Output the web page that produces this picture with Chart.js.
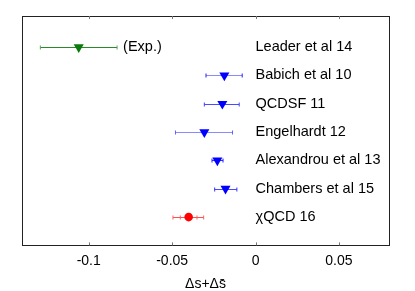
<!DOCTYPE html>
<html>
<head>
<meta charset="utf-8">
<script src="https://cdn.jsdelivr.net/npm/chart.js@4"></script>
<style>
  html, body { margin: 0; padding: 0; background: #fff; }
  #wrap { width: 415px; height: 291px; }
</style>
</head>
<body>
<div id="wrap"><canvas id="c"></canvas></div>
<script>
// data
var labels = ['Leader et al 14', 'Babich et al 10', 'QCDSF 11', 'Engelhardt 12',
              'Alexandrou et al 13', 'Chambers et al 15', '\u03c7QCD 16'];
var rows = [7, 6, 5, 4, 3, 2, 1];
var values = [-0.106, -0.0187, -0.0199, -0.0307, -0.0229, -0.018, -0.0401];
var errLow = [-0.129, -0.0297, -0.0307, -0.048, -0.0261, -0.0245, -0.0495];
var errHigh = [-0.083, -0.008, -0.0098, -0.0138, -0.0195, -0.0112, -0.0311];
var statLow = [null, null, null, null, null, null, -0.0451];
var statHigh = [null, null, null, null, null, null, -0.0351];
var xTicks = [-0.1, -0.05, 0, 0.05];
var xTickLabels = ['-0.1', '-0.05', '0', '0.05'];

var markerColors = ['#0a7a0a', '#0000ff', '#0000ff', '#0000ff', '#0000ff', '#0000ff', '#ff0000'];
var barColors = ['#2a8a2a', '#8a8aff', '#4a4aff', '#8a8aff', '#3030ff', '#4a4aff', '#ff5050'];
var capColors = ['#5aa55a', '#2020ff', '#4040ff', '#6060ff', '#2020ff', '#3030ff', '#ff6060'];

var FONT = '"Liberation Sans", Arial, Helvetica, sans-serif';

var points = values.map(function (v, i) { return { x: v, y: rows[i] }; });
var isLast = function (i) { return i === values.length - 1; };

var extras = {
  id: 'extras',
  beforeDatasetsDraw: function (chart) {
    var ctx = chart.ctx, xs = chart.scales.x, ys = chart.scales.y;
    ctx.save();
    for (var i = 0; i < values.length; i++) {
      var y = Math.round(ys.getPixelForValue(rows[i])) + 0.5;
      var x1 = xs.getPixelForValue(errLow[i]), x2 = xs.getPixelForValue(errHigh[i]);
      ctx.strokeStyle = barColors[i];
      ctx.lineWidth = 1;
      ctx.beginPath();
      ctx.moveTo(x1, y); ctx.lineTo(x2, y);
      ctx.stroke();
      ctx.strokeStyle = capColors[i];
      ctx.beginPath();
      ctx.moveTo(x1, y - 2); ctx.lineTo(x1, y + 2);
      ctx.moveTo(x2, y - 2); ctx.lineTo(x2, y + 2);
      if (statLow[i] !== null) {
        var s1 = xs.getPixelForValue(statLow[i]), s2 = xs.getPixelForValue(statHigh[i]);
        ctx.moveTo(s1, y - 2); ctx.lineTo(s1, y + 2);
        ctx.moveTo(s2, y - 2); ctx.lineTo(s2, y + 2);
      }
      ctx.stroke();
    }
    ctx.restore();
  },
  afterDraw: function (chart) {
    var ctx = chart.ctx, a = chart.chartArea, xs = chart.scales.x, ys = chart.scales.y;
    ctx.save();
    // frame
    ctx.strokeStyle = '#222';
    ctx.lineWidth = 1;
    ctx.strokeRect(Math.round(a.left) + 0.5, Math.round(a.top) + 0.5,
                   Math.round(a.right - a.left), Math.round(a.bottom - a.top));
    // inward ticks top and bottom
    ctx.strokeStyle = '#777';
    ctx.beginPath();
    xTicks.forEach(function (t) {
      var x = Math.round(xs.getPixelForValue(t)) + 0.5;
      ctx.moveTo(x, a.bottom); ctx.lineTo(x, a.bottom - 3);
      ctx.moveTo(x, a.top); ctx.lineTo(x, a.top + 3);
    });
    ctx.stroke();
    // row labels
    ctx.fillStyle = '#000';
    ctx.font = '14.5px ' + FONT;
    ctx.textBaseline = 'middle';
    ctx.textAlign = 'left';
    var lx = xs.getPixelForValue(0);
    labels.forEach(function (l, i) {
      ctx.fillText(l, lx, ys.getPixelForValue(rows[i]));
    });
    ctx.fillText('(Exp.)', xs.getPixelForValue(-0.0794), ys.getPixelForValue(rows[0]));
    ctx.restore();
  }
};

new Chart(document.getElementById('c'), {
  type: 'scatter',
  data: {
    datasets: [{
      data: points,
      pointStyle: values.map(function (v, i) { return isLast(i) ? 'circle' : 'triangle'; }),
      rotation: values.map(function (v, i) { return isLast(i) ? 0 : 180; }),
      pointRadius: values.map(function (v, i) { return isLast(i) ? 4.3 : 5.8; }),
      backgroundColor: markerColors,
      borderColor: markerColors,
      borderWidth: 0
    }]
  },
  options: {
    responsive: true,
    maintainAspectRatio: false,
    animation: false,
    layout: { padding: { left: 22, right: 26, top: 16, bottom: -2 } },
    plugins: { legend: { display: false }, tooltip: { enabled: false } },
    scales: {
      x: {
        type: 'linear',
        min: -0.14,
        max: 0.08,
        afterBuildTicks: function (s) { s.ticks = xTicks.map(function (v) { return { value: v }; }); },
        grid: { display: false, drawTicks: false },
        border: { display: false },
        ticks: {
          padding: 7,
          color: '#000',
          font: { family: FONT, size: 14 },
          callback: function (v) { var k = xTicks.indexOf(v); return k >= 0 ? xTickLabels[k] : ''; }
        },
        title: {
          display: true,
          text: '\u0394s+\u0394s\u0304',
          color: '#000',
          font: { family: FONT, size: 14 },
          padding: { top: 0, bottom: 0 }
        }
      },
      y: {
        type: 'linear',
        display: false,
        min: 0,
        max: 8.1
      }
    }
  },
  plugins: [extras]
});
</script>
</body>
</html>
